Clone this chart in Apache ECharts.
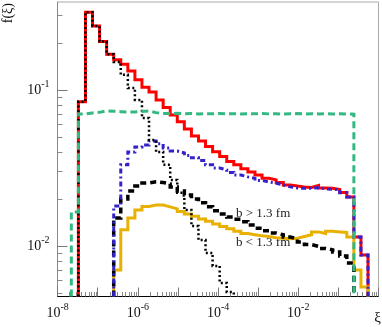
<!DOCTYPE html>
<html>
<head>
<meta charset="utf-8">
<script src="https://cdn.jsdelivr.net/npm/echarts@6/dist/echarts.min.js"></script>
<style>
	html, body { margin: 0; padding: 0; background: #fff; }
	#chart { width: 382px; height: 327px; }
</style>
</head>
<body>
<div id="chart"></div>
<script>
	// binning: every bin is 1.5 times the previous one in xi, bin 0 starts at binLow
	var binLow = 2.2e-8
	var binRatio = 1.5

	// x range starts a hair below 1e-8 so the first label is not treated as an edge label
	var xMin = 0.995e-8, xMax = 1
	var yMin = 0.00474, yMax = 0.366

	// tick labels
	var xLabelTicks = [1e-8, 1e-6, 1e-4, 1e-2]
	var xDecadeTicks = [1e-8, 1e-7, 1e-6, 1e-5, 1e-4, 1e-3, 1e-2, 1e-1, 1]
	var yLabelTicks = [0.01, 0.1]
	var yDecadeTicks = [0.01, 0.1]

	// histograms: first bin index + contents
	var redFirst = 1
	var redVals = [0.0841, 0.315, 0.257, 0.204, 0.169, 0.156, 0.146, 0.132, 0.116, 0.104,
		0.0971, 0.0863, 0.0772, 0.0691, 0.0624, 0.0562, 0.0507, 0.0471, 0.0433, 0.0402,
		0.0374, 0.0347, 0.0331, 0.0312, 0.0298, 0.0285, 0.0271, 0.0265, 0.0255, 0.0246,
		0.0242, 0.0239, 0.0237, 0.0244, 0.0235, 0.0234, 0.0230, 0.0220, 0.0206, 0.0114, 0.00876]

	var dottedFirst = 1
	var dottedVals = [0.0841, 0.315, 0.257, 0.204, 0.169, 0.151, 0.125, 0.103, 0.0863, 0.0661,
		0.0478, 0.0400, 0.0331, 0.0265, 0.0219, 0.0170, 0.0134, 0.0109, 0.00902, 0.00744,
		0.00579, 0.00507]

	var greenFirst = 0
	var greenVals = [0.0165, 0.0702, 0.0712, 0.0718, 0.0735, 0.0730, 0.0725, 0.0720, 0.0722, 0.0728,
		0.0732, 0.0715, 0.0705, 0.0706, 0.0708, 0.0704, 0.0706, 0.0702, 0.0705, 0.0703,
		0.0706, 0.0702, 0.0704, 0.0701, 0.0705, 0.0703, 0.0706, 0.0702, 0.0704, 0.0700,
		0.0703, 0.0705, 0.0701, 0.0704, 0.0702, 0.0705, 0.0700, 0.0703, 0.0701, 0.0698]

	var blueFirst = 6
	var blueVals = [0.0180, 0.0331, 0.0400, 0.0431, 0.0444, 0.0471, 0.0451, 0.0425, 0.0406, 0.0395,
		0.0380, 0.0367, 0.0353, 0.0331, 0.0316, 0.0307, 0.0296, 0.0285, 0.0277, 0.0271,
		0.0263, 0.0257, 0.0252, 0.0246, 0.0239, 0.0235, 0.0234, 0.0234, 0.0236, 0.0232,
		0.0231, 0.0229, 0.0219, 0.0206, 0.0114, 0.00876]

	var dashedFirst = 6
	var dashedVals = [0.0151, 0.0200, 0.0225, 0.0242, 0.0253, 0.0258, 0.0255, 0.0250, 0.0239, 0.0225,
		0.0212, 0.0200, 0.0189, 0.0178, 0.0168, 0.0160, 0.0153, 0.0148, 0.0143, 0.0136,
		0.0130, 0.0125, 0.0121, 0.0118, 0.0114, 0.0111, 0.0106, 0.0102, 0.00993, 0.00964,
		0.00943, 0.00915, 0.00863, 0.00778]

	var yellowFirst = 6
	var yellowVals = [0.00702, 0.0127, 0.0151, 0.0170, 0.0179, 0.0183, 0.0183, 0.0178, 0.0173, 0.0166,
		0.0160, 0.0155, 0.0149, 0.0144, 0.0138, 0.0133, 0.0129, 0.0124, 0.0120, 0.0118,
		0.0116, 0.0115, 0.0113, 0.0112, 0.0111, 0.0112, 0.0115, 0.0118, 0.0123, 0.0120,
		0.0124, 0.0123, 0.0122, 0.0114, 0.00702, 0.00546]

	var serif = '"Liberation Serif", "DejaVu Serif", serif'

	// minor ticks 2..9 of every decade
	function minorTicks(lo, hi) {
		var out = []
		for (var d = Math.floor(Math.log10(lo)); d <= Math.ceil(Math.log10(hi)); d++) {
			for (var m = 2; m <= 9; m++) {
				var v = m * Math.pow(10, d)
				if (v >= lo && v <= hi) out.push(v)
			}
		}
		return out
	}

	function edge(i) {
		return binLow * Math.pow(binRatio, i)
	}

	// step outline of a histogram, closed down to the bottom of the frame
	function histLine(first, vals) {
		var pts = [[edge(first), yMin]]
		for (var i = 0; i < vals.length; i++) {
			pts.push([edge(first + i), vals[i]])
		}
		pts.push([edge(first + vals.length), vals[vals.length - 1]])
		pts.push([edge(first + vals.length), yMin])
		return pts
	}

	function powLabel(v) {
		return '{b|10}{s|' + Math.round(Math.log10(v)) + '}'
	}

	var labelRich = {
		b: { fontFamily: serif, fontSize: 14, color: '#111', lineHeight: 22 },
		s: { fontFamily: serif, fontSize: 10, color: '#111', lineHeight: 9, verticalAlign: 'top' }
	}

	function histSeries(name, first, vals, color, width, dash) {
		return {
			name: name,
			type: 'line',
			step: 'end',
			xAxisIndex: 0,
			yAxisIndex: 0,
			symbol: 'none',
			data: histLine(first, vals),
			lineStyle: { color: color, width: width, type: dash || 'solid', cap: 'butt', join: 'miter' }
		}
	}

	var chart = echarts.init(document.getElementById('chart'), null, { renderer: 'canvas' })

	chart.setOption({
		animation: false,
		backgroundColor: '#fff',
		grid: {
			left: 57.5, right: 3.5, top: 2, bottom: 30.5,
			show: true, borderColor: '#aaa', borderWidth: 1,
			outerBoundsMode: 'none'
		},
		xAxis: [{
			type: 'log', min: xMin, max: xMax, position: 'bottom',
			axisLine: { lineStyle: { color: '#000', width: 1 } },
			axisTick: { show: true, inside: true, length: 9, customValues: xDecadeTicks, lineStyle: { color: '#777' } },
			axisLabel: {
				customValues: xLabelTicks, margin: 6,
				formatter: powLabel, rich: labelRich
			},
			splitLine: { show: false }, minorTick: { show: false }
		}, {
			type: 'log', min: xMin, max: xMax, position: 'bottom',
			axisLine: { show: false },
			axisTick: { show: true, inside: true, length: 4.5, customValues: minorTicks(1e-8, xMax), lineStyle: { color: '#888' } },
			axisLabel: { show: false },
			splitLine: { show: false }
		}],
		yAxis: [{
			type: 'log', min: yMin, max: yMax, position: 'left',
			axisLine: { show: true, lineStyle: { color: '#888', width: 1 } },
			axisTick: { show: true, inside: true, length: 10, customValues: yDecadeTicks, lineStyle: { color: '#777' } },
			axisLabel: {
				customValues: yLabelTicks, margin: 8,
				formatter: powLabel, rich: labelRich
			},
			splitLine: { show: false }
		}, {
			type: 'log', min: yMin, max: yMax, position: 'left',
			axisLine: { show: false },
			axisTick: { show: true, inside: true, length: 5, customValues: minorTicks(yMin, yMax), lineStyle: { color: '#888' } },
			axisLabel: { show: false },
			splitLine: { show: false }
		}],
		graphic: [
			{ type: 'text', x: 8, y: 3, rotation: Math.PI / 2,
				style: { text: 'f(ξ)', fontFamily: serif, fontSize: 14, fill: '#111', align: 'right', verticalAlign: 'middle' } },
			{ type: 'text', x: 381, y: 318,
				style: { text: 'ξ', fontFamily: serif, fontSize: 15, fill: '#111', align: 'right', verticalAlign: 'middle' } },
			{ type: 'text', x: 236, y: 214,
				style: { text: 'b > 1.3 fm', fontFamily: serif, fontSize: 13, fill: '#222', align: 'left', verticalAlign: 'middle' } },
			{ type: 'text', x: 236, y: 243,
				style: { text: 'b < 1.3 fm', fontFamily: serif, fontSize: 13, fill: '#222', align: 'left', verticalAlign: 'middle' } }
		],
		series: [
			histSeries('total', redFirst, redVals, '#ff0000', 3),
			histSeries('b < 1.3 fm', yellowFirst, yellowVals, '#e8b000', 3),
			histSeries('b > 1.3 fm', dashedFirst, dashedVals, '#000', 3.5, [6, 4]),
			histSeries('blue', blueFirst, blueVals, '#3322cc', 3, [5, 3, 2, 3]),
			histSeries('dotted', dottedFirst, dottedVals, '#000', 2.5, [2, 2.5]),
			histSeries('green', greenFirst, greenVals, '#33b882', 3, [7, 4])
		]
	})
</script>
</body>
</html>
